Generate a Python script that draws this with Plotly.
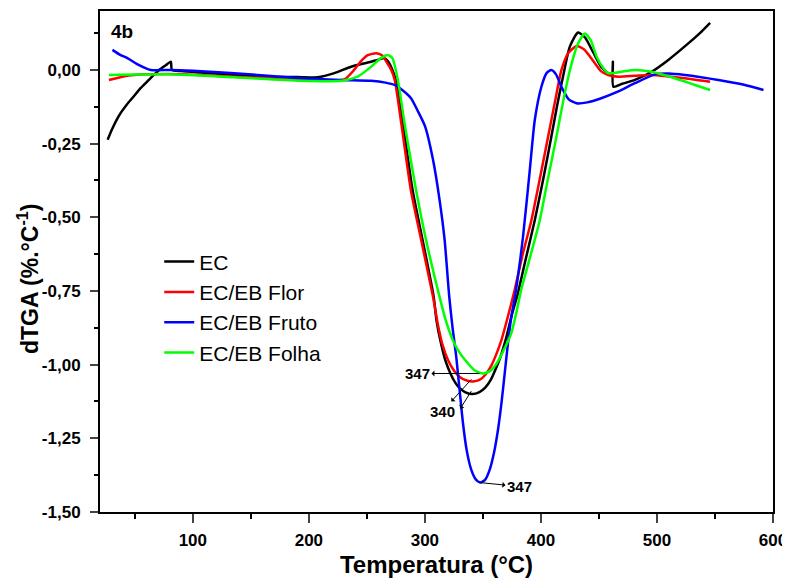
import plotly.graph_objects as go

# ---------------- data ----------------
series_names = ["EC", "EC/EB Flor", "EC/EB Fruto", "EC/EB Folha"]
series_colors = ["#000000", "#FF0000", "#0000FF", "#00FF00"]

ec_T = [26.6, 30, 34, 38, 43, 49, 55, 60, 64, 68, 72, 77, 81, 82, 90, 107, 130, 164.5,
        190, 207.7, 222, 236.4, 250.8, 260, 265, 268, 272, 276, 281, 289.5, 298, 307.6, 310,
        314, 318, 322, 326, 330, 335, 341, 347, 352, 357, 361, 365, 370, 375, 380, 387,
        394.7, 402, 409, 414, 419, 424.9, 432, 438, 445, 452, 458, 461.5, 462, 462.5, 470,
        481, 495.4, 509.8, 527, 537, 545.8]
ec_y = [-0.237, -0.205, -0.172, -0.145, -0.118, -0.090, -0.062, -0.042, -0.026, -0.011,
        0.003, 0.017, 0.028, 0.000, -0.004, -0.009, -0.015, -0.023, -0.024, -0.025, -0.011,
        0.011, 0.025, 0.035, 0.040, 0.030, 0.000, -0.050, -0.180, -0.410, -0.577, -0.770,
        -0.850, -0.930, -0.990, -1.030, -1.060, -1.080, -1.094, -1.100, -1.093, -1.078,
        -1.050, -1.015, -0.975, -0.910, -0.830, -0.760, -0.640, -0.510, -0.370, -0.226,
        -0.120, -0.023, 0.079, 0.127, 0.110, 0.060, 0.010, -0.011, -0.011, 0.028, -0.057,
        -0.047, -0.034, -0.006, 0.034, 0.090, 0.125, 0.160]

flor_T = [27.7, 40, 49.3, 78, 100, 135.7, 193, 230.6, 239, 245, 250.8, 258, 263, 268, 271,
          274, 279.6, 288, 296.8, 307, 311, 315, 320, 325, 330, 336, 341.5, 347, 352, 357,
          362, 366, 372, 377.4, 384, 391.8, 399, 406.2, 412, 417.7, 423.5, 430.7, 437, 446.5,
          452, 458, 466.6, 481, 495.4, 510, 524.2, 545.8]
flor_y = [-0.034, -0.022, -0.017, -0.014, -0.016, -0.023, -0.032, -0.032, 0.000, 0.030,
          0.050, 0.057, 0.050, 0.020, 0.000, -0.034, -0.180, -0.410, -0.577, -0.770, -0.860,
          -0.930, -0.985, -1.020, -1.042, -1.054, -1.057, -1.052, -1.035, -1.005, -0.960,
          -0.916, -0.830, -0.746, -0.630, -0.510, -0.370, -0.226, -0.110, 0.000, 0.057,
          0.081, 0.070, 0.023, -0.005, -0.017, -0.023, -0.020, -0.017, -0.022, -0.028, -0.040]

fruto_T = [30.7, 37, 43.6, 52, 63.7, 81, 100, 135.7, 193, 227.8, 253.7, 266, 274, 281, 288,
           294, 300, 307, 312.6, 317, 321, 324, 327, 330, 332.8, 336, 340, 344, 348, 352,
           355.8, 359.5, 363, 366, 368.8, 371.5, 374.5, 378, 384.6, 390.4, 394.7, 400.4,
           405, 409, 413, 418, 424, 430.7, 440, 452, 466.7, 481, 498.3, 510, 524, 553, 575,
           591.8]
fruto_y = [0.068, 0.052, 0.040, 0.020, 0.000, 0.000, -0.003, -0.011, -0.028, -0.034, -0.037,
           -0.043, -0.051, -0.070, -0.096, -0.140, -0.190, -0.305, -0.440, -0.577, -0.770,
           -0.880, -0.973, -1.090, -1.198, -1.290, -1.357, -1.390, -1.400, -1.390, -1.357,
           -1.300, -1.221, -1.130, -1.029, -0.930, -0.837, -0.760, -0.565, -0.340, -0.170,
           -0.057, -0.010, 0.000, -0.015, -0.060, -0.100, -0.113, -0.110, -0.096, -0.073,
           -0.045, -0.015, -0.012, -0.017, -0.034, -0.050, -0.068]

folha_T = [27.7, 78, 135.7, 193, 227.8, 242, 253.7, 262, 268, 272, 276.7, 282.4, 292.5, 301,
           312, 318, 324, 330, 337, 343, 350, 356, 362, 368, 374.5, 379, 383, 391, 399, 406,
           413.4, 419, 425, 432, 437.8, 443, 448, 454, 458, 461, 469.5, 481, 495, 515.5,
           532.8, 545.8]
folha_y = [-0.017, -0.015, -0.025, -0.037, -0.037, -0.023, 0.011, 0.040, 0.051, 0.040,
           -0.034, -0.180, -0.410, -0.577, -0.760, -0.850, -0.916, -0.960, -0.995, -1.020,
           -1.030, -1.022, -0.995, -0.950, -0.893, -0.820, -0.746, -0.630, -0.510, -0.370,
           -0.226, -0.110, 0.000, 0.090, 0.124, 0.100, 0.045, 0.005, -0.011, -0.011, -0.006,
           0.000, -0.006, -0.028, -0.051, -0.068]

# peak (minimum) labels
peak_labels = ["347", "340", "", "347"]
peak_T = [347, 340, 340, 347]
peak_y = [-1.03, -1.05, -1.09, -1.40]

x_tickvals = [100, 200, 300, 400, 500, 600]
x_ticktext = ["<b>100</b>", "<b>200</b>", "<b>300</b>", "<b>400</b>", "<b>500</b>", "<b>600</b>"]
y_tickvals = [0.0, -0.25, -0.5, -0.75, -1.0, -1.25, -1.5]
y_ticktext = ["<b>0,00</b>", "<b>-0,25</b>", "<b>-0,50</b>", "<b>-0,75</b>", "<b>-1,00</b>",
              "<b>-1,25</b>", "<b>-1,50</b>"]

FONT = "Liberation Sans, Arial, sans-serif"

fig = go.Figure()
all_T = [ec_T, flor_T, fruto_T, folha_T]
all_y = [ec_y, flor_y, fruto_y, folha_y]
for name, color, T, y in zip(series_names, series_colors, all_T, all_y):
    fig.add_trace(go.Scatter(x=T, y=y, mode="lines", name=name,
                             line=dict(color=color, width=2.5, shape="spline", smoothing=0.6)))

# annotations for peaks (arrows pointing from the curve minimum toward the label)
offsets = [(-62, 0), (-29, 32), (-12, 19), (40, 4)]
for lab, tx, ty, (ax, ay) in zip(peak_labels, peak_T, peak_y, offsets):
    fig.add_annotation(x=tx, y=ty, text=("<b>%s</b>" % lab) if lab else "", showarrow=True,
                       ax=ax, ay=ay, arrowside="start", arrowhead=2,
                       arrowsize=1.2, arrowwidth=1, arrowcolor="black",
                       font=dict(family=FONT, size=15, color="black"))

fig.add_annotation(x=0.014, y=0.985, xref="paper", yref="paper", text="<b>4b</b>",
                   showarrow=False, xanchor="left", yanchor="top",
                   font=dict(family=FONT, size=19, color="black"))

# y-axis title (placed as a rotated text, slightly below the axis middle as in the reference)
fig.add_annotation(x=-0.107, y=0.465, xref="paper", yref="paper",
                   text="<b>dTGA (%.°C<sup>-1</sup>)</b>", textangle=-90, showarrow=False,
                   xanchor="center", yanchor="middle",
                   font=dict(family=FONT, size=23, color="black"))

fig.update_layout(
    width=782, height=573,
    margin=dict(l=92, r=17, t=3, b=69),
    paper_bgcolor="white", plot_bgcolor="white",
    font=dict(family=FONT, color="black"),
    showlegend=True,
    legend=dict(x=0.088, y=0.54, xanchor="left", yanchor="top",
                bgcolor="rgba(0,0,0,0)", font=dict(family=FONT, size=21, color="black"),
                tracegroupgap=0, itemwidth=30),
)
fig.update_xaxes(range=[20, 600], tickvals=x_tickvals, ticktext=x_ticktext, ticks="outside",
                 ticklen=9, tickwidth=1.5, automargin=False, ticklabelstandoff=3,
                 showline=True, linewidth=2, linecolor="black", mirror=True, showgrid=False,
                 zeroline=False, tickfont=dict(family=FONT, size=17, color="black"),
                 minor=dict(dtick=50, ticks="outside", ticklen=5, tickwidth=1.5, tickcolor="black"),
                 title=dict(text="<b>Temperatura (°C)</b>", font=dict(family=FONT, size=24),
                            standoff=7))
fig.update_yaxes(range=[-1.5, 0.2], tickvals=y_tickvals, ticktext=y_ticktext, ticks="outside",
                 ticklen=8, tickwidth=1.5, automargin=False, ticklabelstandoff=6,
                 showline=True, linewidth=2,
                 linecolor="black", mirror=True, showgrid=False, zeroline=False,
                 tickfont=dict(family=FONT, size=17, color="black"),
                 minor=dict(dtick=0.125, ticks="outside", ticklen=4, tickwidth=1.5, tickcolor="black"))

fig.write_html("out.html")
